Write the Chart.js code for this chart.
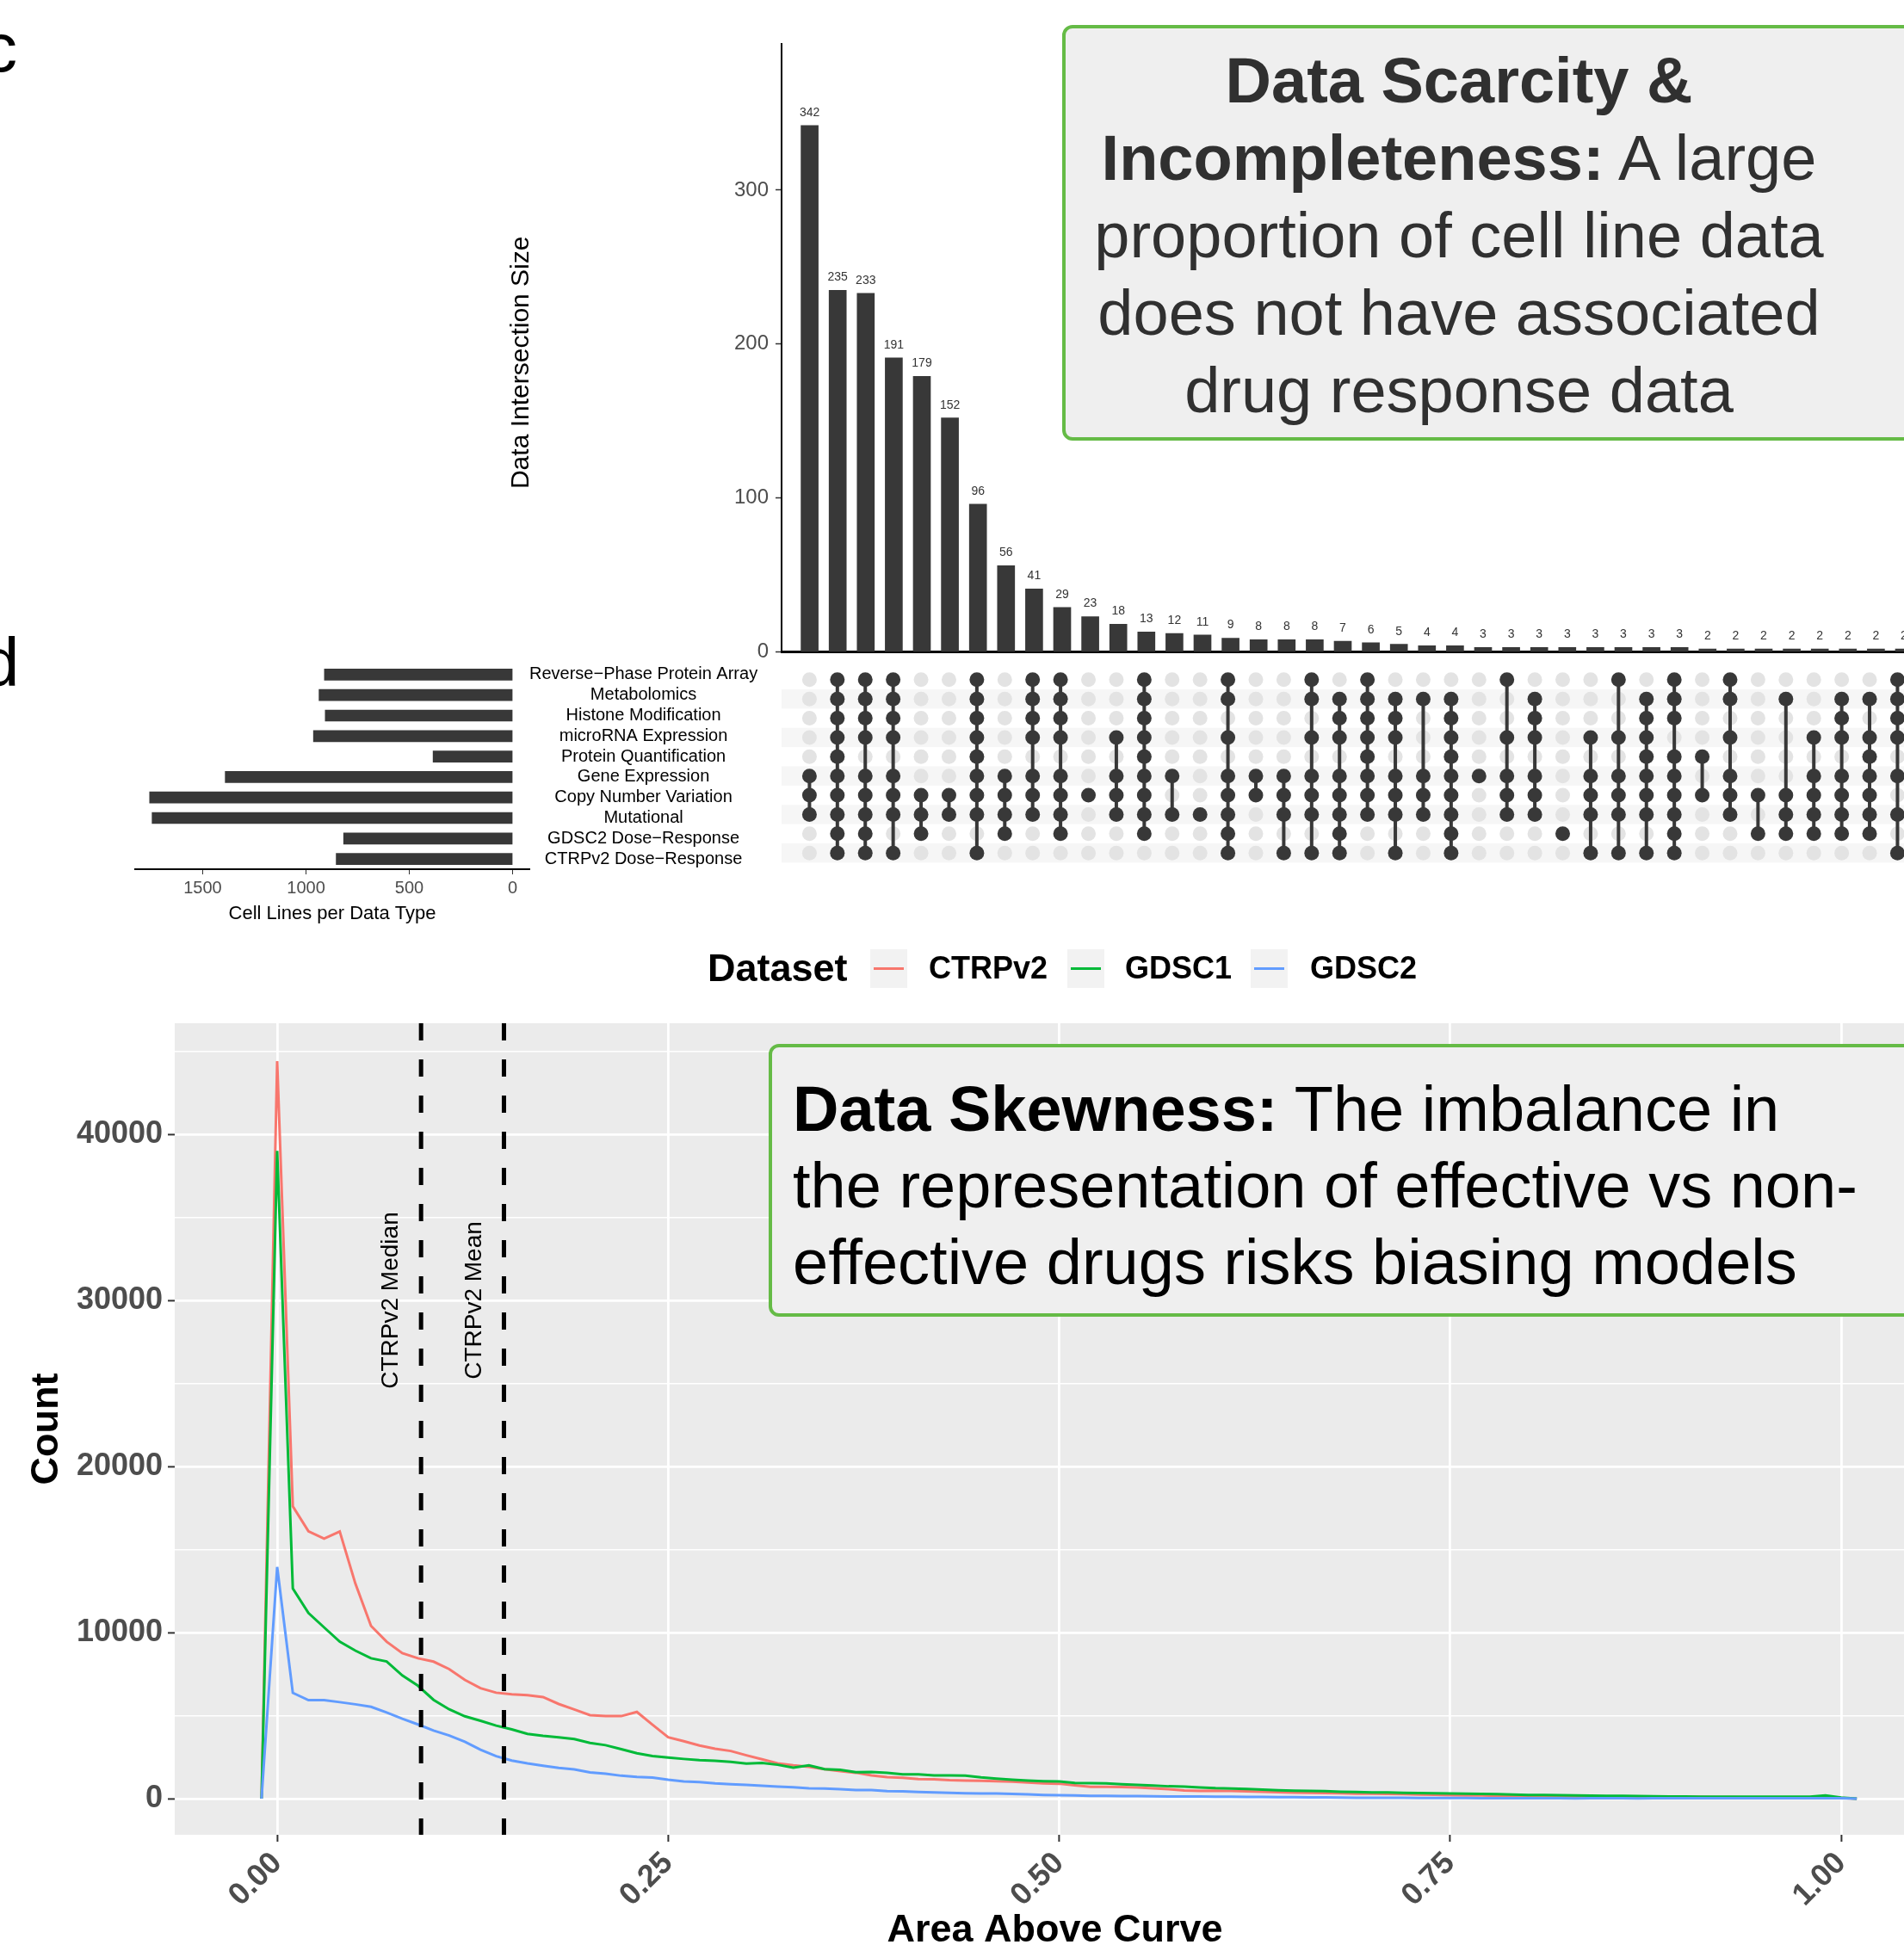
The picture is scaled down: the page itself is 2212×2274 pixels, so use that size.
<!DOCTYPE html>
<html lang="en">
<head>
<meta charset="UTF-8">
<title>UpSet and AAC distribution</title>
<script src="https://cdn.jsdelivr.net/npm/chart.js"></script>
<style>
    html, body { margin: 0; padding: 0; overflow: hidden; background: #fff; }
    body { width: 2212px; height: 2274px; position: relative; font-family: 'Liberation Sans', Arial, Helvetica, sans-serif; }
    canvas { position: absolute; }
    .panel-tag { position: absolute; font-size: 80px; line-height: 80px; color: #000; }
    .note { position: absolute; box-sizing: border-box; border: 4px solid #65bb46; border-radius: 12px; background: #efefef; z-index: 5; }
    .note .txt { position: absolute; font-size: 74px; white-space: nowrap; }
    .legend-item { position: absolute; font-weight: bold; white-space: nowrap; z-index: 5; }
    .key { position: absolute; width: 43px; height: 45px; background: #f2f2f2; z-index: 5; }
    .key div { position: absolute; left: 4px; top: 21px; width: 35px; height: 3px; }
</style>
</head>
<body>

<div class="panel-tag" style="left:-20px; top:16px;">c</div>
<div class="panel-tag" style="left:-22px; top:730px;">d</div>

<canvas id="upsetBars" width="1815" height="780" style="left:560px; top:0px;"></canvas>
<canvas id="upsetMatrix" width="1815" height="263" style="left:560px; top:759px;"></canvas>
<canvas id="setSizes" width="750" height="320" style="left:150px; top:760px;"></canvas>
<canvas id="aacChart" width="2260" height="1174" style="left:0px; top:1100px;"></canvas>

<div id="legend"></div>

<div class="note" style="left:1234px; top:29px; width:1010px; height:483px;">
    <div class="txt" style="left:0; top:16px; width:914px; text-align:center; line-height:90px; color:#303030;">
        <b>Data Scarcity &amp;</b><br><b>Incompleteness:</b> A large<br>proportion of cell line data<br>does not have associated<br>drug response data
    </div>
</div>

<div class="note" style="left:893px; top:1213px; width:1360px; height:317px;">
    <div class="txt" style="left:24px; top:27px; line-height:89px; color:#000;">
        <b>Data Skewness:</b> The imbalance in<br>the representation of effective vs non-<br>effective drugs risks biasing models
    </div>
</div>

<script>
    const FONT = "'Liberation Sans', Arial, Helvetica, sans-serif";
    Chart.defaults.font.family = FONT;

    // ---- UpSet data ----
    const setNames = ['Reverse\u2212Phase Protein Array', 'Metabolomics', 'Histone Modification', 'microRNA Expression',
        'Protein Quantification', 'Gene Expression', 'Copy Number Variation', 'Mutational',
        'GDSC2 Dose\u2212Response', 'CTRPv2 Dose\u2212Response'];
    const setSizes = [911, 937, 907, 964, 385, 1391, 1757, 1745, 818, 854];
    const setSizeTicks = [0, 500, 1000, 1500];

    const intersectionSizes = [342, 235, 233, 191, 179, 152, 96, 56, 41, 29, 23, 18, 13, 12, 11, 9, 8, 8, 8, 7,
        6, 5, 4, 4, 3, 3, 3, 3, 3, 3, 3, 3, 2, 2, 2, 2, 2, 2, 2, 2];
    const intersectionTicks = [0, 100, 200, 300];
    // row indices (into setNames) present in each intersection column
    const intersectionSets = [
        [5, 6, 7], [0, 1, 2, 3, 4, 5, 6, 7, 8, 9], [0, 1, 2, 3, 5, 6, 7, 8, 9], [0, 1, 2, 3, 5, 6, 7, 9],
        [6, 7, 8], [6, 7], [0, 1, 2, 3, 4, 5, 6, 7, 9], [5, 6, 7, 8], [0, 1, 2, 3, 5, 6, 7], [0, 1, 2, 3, 5, 6, 7, 8],
        [6], [3, 5, 6, 7], [0, 1, 2, 3, 4, 5, 6, 7, 8], [5, 7], [7], [0, 1, 3, 5, 6, 7, 8, 9], [5, 6], [5, 6, 7, 9],
        [0, 1, 3, 5, 6, 7, 9], [1, 2, 3, 5, 6, 7, 8, 9], [0, 1, 2, 3, 4, 5, 6, 7], [1, 2, 3, 5, 6, 7, 9], [1, 5, 6, 7],
        [1, 2, 3, 4, 5, 6, 7, 8, 9], [5], [0, 3, 5, 6, 7], [1, 2, 3, 5, 6, 7], [8], [3, 5, 6, 7, 9], [0, 3, 5, 6, 7, 9],
        [1, 2, 3, 4, 5, 6, 7, 9], [0, 1, 2, 4, 5, 6, 7, 8, 9], [4, 6], [0, 1, 3, 5, 6, 7], [6, 8], [1, 6, 7, 8],
        [3, 5, 6, 7, 8], [1, 2, 3, 5, 6, 7, 8], [1, 3, 4, 5, 6, 7, 8], [0, 1, 2, 3, 5, 7, 9]
    ];

    // ---- AAC frequency polygon data ----
    const aacBins = [-0.01, 0.00, 0.01, 0.02, 0.03, 0.04, 0.05, 0.06, 0.07, 0.08, 0.09,
        0.10, 0.11, 0.12, 0.13, 0.14, 0.15, 0.16, 0.17, 0.18, 0.19,
        0.20, 0.21, 0.22, 0.23, 0.24, 0.25, 0.26, 0.27, 0.28, 0.29,
        0.30, 0.31, 0.32, 0.33, 0.34, 0.35, 0.36, 0.37, 0.38, 0.39,
        0.40, 0.41, 0.42, 0.43, 0.44, 0.45, 0.46, 0.47, 0.48, 0.49,
        0.50, 0.51, 0.52, 0.53, 0.54, 0.55, 0.56, 0.57, 0.58, 0.59,
        0.60, 0.61, 0.62, 0.63, 0.64, 0.65, 0.66, 0.67, 0.68, 0.69,
        0.70, 0.71, 0.72, 0.73, 0.74, 0.75, 0.76, 0.77, 0.78, 0.79,
        0.80, 0.81, 0.82, 0.83, 0.84, 0.85, 0.86, 0.87, 0.88, 0.89,
        0.90, 0.91, 0.92, 0.93, 0.94, 0.95, 0.96, 0.97, 0.98, 0.99,
        1.00, 1.01];
    const ctrpCounts = [0, 44400, 17600, 16100, 15650, 16080, 12950, 10400, 9450, 8760, 8450,
        8250, 7800, 7150, 6650, 6380, 6280, 6230, 6120, 5700, 5370,
        5030, 4970, 4970, 5220, 4450, 3700, 3460, 3200, 3010, 2870,
        2610, 2370, 2130, 2010, 1920, 1770, 1660, 1560, 1400, 1300,
        1260, 1180, 1170, 1110, 1090, 1070, 1050, 1020, 970, 920,
        900, 800, 710, 710, 700, 675, 620, 570, 490, 470,
        480, 460, 440, 420, 390, 365, 350, 340, 320, 300,
        295, 280, 270, 250, 230, 210, 200, 190, 175, 160,
        140, 135, 130, 125, 125, 120, 118, 112, 108, 105,
        104, 100, 95, 88, 80, 70, 65, 60, 55, 48,
        35, 0];
    const gdsc1Counts = [0, 39000, 12650, 11180, 10310, 9450, 8910, 8450, 8260, 7420, 6800,
        5950, 5380, 4960, 4690, 4400, 4170, 3900, 3780, 3690, 3590,
        3360, 3220, 2980, 2730, 2570, 2470, 2390, 2320, 2280, 2210,
        2110, 2150, 2040, 1870, 2010, 1780, 1730, 1590, 1610, 1560,
        1470, 1470, 1400, 1400, 1380, 1280, 1210, 1140, 1090, 1055,
        1040, 950, 935, 915, 865, 830, 795, 745, 725, 675,
        630, 610, 580, 550, 510, 485, 470, 450, 420, 400,
        380, 370, 355, 340, 325, 310, 300, 285, 270, 250,
        225, 215, 205, 195, 185, 175, 165, 155, 145, 135,
        125, 122, 120, 120, 122, 120, 118, 120, 122, 190,
        70, 0];
    const gdsc2Counts = [0, 13950, 6370, 5930, 5930, 5810, 5680, 5530, 5190, 4810, 4470,
        4100, 3800, 3430, 2950, 2560, 2290, 2120, 1980, 1850, 1760,
        1580, 1500, 1380, 1310, 1270, 1140, 1040, 1000, 920, 865,
        830, 780, 730, 690, 625, 605, 570, 520, 520, 450,
        435, 400, 380, 345, 330, 310, 310, 280, 260, 225,
        210, 190, 175, 172, 156, 150, 140, 135, 128, 125,
        122, 118, 110, 100, 92, 88, 80, 72, 65, 58,
        52, 50, 46, 42, 38, 35, 33, 30, 27, 24,
        20, 20, 22, 18, 20, 24, 20, 18, 22, 20,
        25, 22, 20, 24, 26, 22, 25, 28, 24, 30,
        30, 0];
    const datasetNames = ['CTRPv2', 'GDSC1', 'GDSC2'];
    const datasetColors = ['#F8766D', '#00BA38', '#619CFF'];
    const countMajor = [0, 10000, 20000, 30000, 40000];
    const countTicks = [0, 5000, 10000, 15000, 20000, 25000, 30000, 35000, 40000, 45000];
    const aacTicks = [0, 0.25, 0.5, 0.75, 1.0];
    const refLines = [{ label: 'CTRPv2 Median', value: 0.092 }, { label: 'CTRPv2 Mean', value: 0.145 }];
    const countMin = -2176, countMax = 46684;

    // ---------- intersection bar chart ----------
    const barValueLabels = {
        id: 'barValueLabels',
        afterDatasetsDraw(chart) {
            const ctx = chart.ctx;
            ctx.save();
            ctx.font = '14px ' + FONT;
            ctx.fillStyle = '#333333';
            ctx.textAlign = 'center';
            ctx.textBaseline = 'bottom';
            chart.getDatasetMeta(0).data.forEach((bar, i) => {
                ctx.fillText(String(intersectionSizes[i]), bar.x, bar.y - 8);
            });
            ctx.restore();
        }
    };
    // y title of the intersection bars, placed like ggplot does (a bit lower than Chart.js centres it)
    const barsTitle = {
        id: 'barsTitle',
        afterDraw(chart) {
            const { ctx, chartArea } = chart;
            ctx.save();
            ctx.font = '30px ' + FONT;
            ctx.fillStyle = '#000';
            ctx.textAlign = 'center';
            ctx.textBaseline = 'middle';
            ctx.translate(chartArea.left - 302, (chartArea.top + chartArea.bottom) / 2 + 17);
            ctx.rotate(-Math.PI / 2);
            ctx.fillText('Data Intersection Size', 0, 0);
            ctx.restore();
        }
    };

    new Chart(document.getElementById('upsetBars'), {
        type: 'bar',
        data: {
            datasets: [{
                data: intersectionSizes.map((v, i) => ({ x: i, y: v })),
                backgroundColor: '#383838',
                barThickness: 20
            }]
        },
        options: {
            responsive: false, animation: false, devicePixelRatio: 1,
            layout: { padding: { top: 51, left: 0, right: 0, bottom: 0 } },
            plugins: { legend: { display: false }, tooltip: { enabled: false } },
            scales: {
                x: {
                    type: 'linear', min: -1, max: 44, offset: false,
                    grid: { display: false, offset: false },
                    ticks: { display: false },
                    border: { display: true, color: '#000', width: 3 },
                    afterFit: s => { s.height = 13; }
                },
                y: {
                    min: 0, max: 395,
                    afterBuildTicks: s => { s.ticks = intersectionTicks.map(v => ({ value: v })); },
                    ticks: { font: { size: 24 }, color: '#4d4d4d', padding: 8 },
                    grid: { drawOnChartArea: false, tickLength: 7, tickColor: '#333', tickWidth: 1.5 },
                    border: { display: true, color: '#000', width: 2 },
                    afterFit: s => { s.width = 348; }
                }
            }
        },
        plugins: [barValueLabels, barsTitle]
    });

    // ---------- intersection matrix ----------
    const matrixStripes = {
        id: 'matrixStripes',
        beforeDatasetsDraw(chart) {
            const { ctx, chartArea, scales } = chart;
            ctx.save();
            ctx.fillStyle = '#f6f6f6';
            setNames.forEach((name, r) => {
                if (r % 2 === 1) {
                    const top = scales.y.getPixelForValue(r - 0.5);
                    const bottom = scales.y.getPixelForValue(r + 0.5);
                    ctx.fillRect(chartArea.left, top, chartArea.right - chartArea.left, bottom - top);
                }
            });
            ctx.restore();
        }
    };

    const filledPts = [], emptyPts = [], connectors = [];
    intersectionSets.forEach((rows, col) => {
        setNames.forEach((_, r) => (rows.includes(r) ? filledPts : emptyPts).push({ x: col, y: r }));
        if (rows.length > 1) {
            connectors.push({
                data: [{ x: col, y: Math.min(...rows) }, { x: col, y: Math.max(...rows) }],
                showLine: true, borderColor: '#383838', borderWidth: 4, pointRadius: 0, order: 1
            });
        }
    });

    new Chart(document.getElementById('upsetMatrix'), {
        type: 'scatter',
        data: {
            datasets: [
                { data: filledPts, pointRadius: 8.5, backgroundColor: '#383838', borderWidth: 0, order: 0 },
                ...connectors,
                { data: emptyPts, pointRadius: 8.5, backgroundColor: '#e3e3e3', borderWidth: 0, order: 2 }
            ]
        },
        options: {
            responsive: false, animation: false, devicePixelRatio: 1,
            layout: { padding: { left: 348, top: 0, right: 0, bottom: 0 } },
            plugins: { legend: { display: false }, tooltip: { enabled: false } },
            scales: {
                x: { type: 'linear', min: -1, max: 44, display: false },
                y: { type: 'linear', min: -1, max: 10, reverse: true, display: false }
            }
        },
        plugins: [matrixStripes]
    });

    // ---------- set size bars ----------
    const mctx = document.createElement('canvas').getContext('2d');
    mctx.font = '20px ' + FONT;
    const widest = Math.max(...setNames.map(s => mctx.measureText(s).width));
    const labelPad = Math.max(0, 745 - 615 - widest / 2);

    new Chart(document.getElementById('setSizes'), {
        type: 'bar',
        data: {
            labels: setNames,
            datasets: [{ data: setSizes, backgroundColor: '#383838', barThickness: 13 }]
        },
        options: {
            indexAxis: 'y', responsive: false, animation: false, devicePixelRatio: 1,
            layout: { padding: { left: 7, top: 11, right: 0, bottom: 0 } },
            plugins: { legend: { display: false }, tooltip: { enabled: false } },
            scales: {
                x: {
                    type: 'linear', reverse: true, min: -81, max: 1827,
                    afterBuildTicks: s => { s.ticks = setSizeTicks.map(v => ({ value: v })); },
                    ticks: { font: { size: 20 }, color: '#4d4d4d', padding: 4, maxRotation: 0, callback: v => String(v) },
                    grid: { drawOnChartArea: false, tickLength: 6, tickColor: '#333' },
                    border: { display: true, color: '#000', width: 2 },
                    title: { display: true, text: 'Cell Lines per Data Type', font: { size: 22 }, color: '#000', padding: { top: 2, bottom: 5 } },
                    afterFit: s => { s.height = 70; }
                },
                y: {
                    position: 'right',
                    grid: { display: false, drawTicks: false },
                    border: { display: false },
                    ticks: { font: { size: 20 }, color: '#000', crossAlign: 'center', padding: labelPad, autoSkip: false },
                    afterFit: s => { s.width = 285; }
                }
            }
        }
    });

    // ---------- AAC distribution ----------
    const panelBackground = {
        id: 'panelBackground',
        beforeDraw(chart) {
            const { ctx, chartArea } = chart;
            ctx.save();
            ctx.fillStyle = '#ebebeb';
            ctx.fillRect(chartArea.left, chartArea.top, chartArea.right - chartArea.left, chartArea.bottom - chartArea.top);
            ctx.restore();
        }
    };
    const refLineLabels = {
        id: 'refLineLabels',
        afterDatasetsDraw(chart) {
            const { ctx, scales: { x, y } } = chart;
            ctx.save();
            ctx.font = '28px ' + FONT;
            ctx.fillStyle = '#000';
            ctx.textAlign = 'center';
            ctx.textBaseline = 'middle';
            refLines.forEach(r => {
                ctx.save();
                ctx.translate(x.getPixelForValue(r.value - 0.019), y.getPixelForValue(30000));
                ctx.rotate(-Math.PI / 2);
                ctx.fillText(r.label, 0, 0);
                ctx.restore();
            });
            ctx.restore();
        }
    };

    const seriesCounts = [ctrpCounts, gdsc1Counts, gdsc2Counts];
    const lineSets = datasetNames.map((name, k) => ({
        label: name,
        data: seriesCounts[k].map((c, i) => ({ x: aacBins[i], y: c })),
        borderColor: datasetColors[k],
        borderWidth: 3,
        pointRadius: 0,
        tension: 0,
        order: 2 - k
    }));
    const dashSets = refLines.map(r => ({
        label: r.label,
        data: [{ x: r.value, y: countMax }, { x: r.value, y: countMin }],
        borderColor: '#000',
        borderWidth: 5,
        borderDash: [20, 22],
        pointRadius: 0,
        order: -1
    }));

    const big = { size: 36, weight: 'bold' };
    new Chart(document.getElementById('aacChart'), {
        type: 'line',
        data: { datasets: [...lineSets, ...dashSets] },
        options: {
            responsive: false, animation: false, devicePixelRatio: 1,
            layout: { padding: { top: 89, right: 12, left: 0, bottom: 0 } },
            plugins: { legend: { display: false }, tooltip: { enabled: false } },
            scales: {
                x: {
                    type: 'linear', min: -0.0655, max: 1.06,
                    afterBuildTicks: s => { s.ticks = aacTicks.map(v => ({ value: v })); },
                    ticks: { font: big, color: '#4d4d4d', minRotation: 45, maxRotation: 45, padding: 4, callback: v => Number(v).toFixed(2) },
                    grid: { color: '#ffffff', lineWidth: 2.8, tickLength: 8, tickColor: '#333', tickWidth: 2 },
                    border: { display: false },
                    title: { display: true, text: 'Area Above Curve', font: { size: 45, weight: 'bold' }, color: '#000', padding: { top: 0, bottom: 3 } },
                    afterFit: s => { s.height = 142; }
                },
                y: {
                    min: countMin, max: countMax,
                    afterBuildTicks: s => { s.ticks = countTicks.map(v => ({ value: v })); },
                    ticks: { font: big, color: '#4d4d4d', padding: 6, callback: v => countMajor.includes(v) ? String(v) : '' },
                    grid: {
                        color: '#ffffff',
                        lineWidth: c => countMajor.includes(c.tick && c.tick.value) ? 2.8 : 1.4,
                        tickLength: 8,
                        tickWidth: 2,
                        tickColor: c => countMajor.includes(c.tick && c.tick.value) ? '#333' : 'rgba(0,0,0,0)'
                    },
                    border: { display: false },
                    title: { display: true, text: 'Count', font: { size: 45, weight: 'bold' }, color: '#000', padding: { top: 28, bottom: 0 } },
                    afterFit: s => { s.width = 203; }
                }
            }
        },
        plugins: [panelBackground, refLineLabels]
    });

    // ---------- legend ----------
    const legend = document.getElementById('legend');
    const keyLefts = [1011, 1240, 1453];
    const labelLefts = [1079, 1307, 1522];
    legend.innerHTML = '<div class="legend-item" style="left:822px; top:1098px; font-size:45px; line-height:54px;">Dataset</div>' +
        datasetNames.map((name, k) =>
            '<div class="key" style="left:' + keyLefts[k] + 'px; top:1103px;"><div style="background:' + datasetColors[k] + '"></div></div>' +
            '<div class="legend-item" style="left:' + labelLefts[k] + 'px; top:1103px; font-size:36px; line-height:44px;">' + name + '</div>'
        ).join('');
</script>
</body>
</html>
